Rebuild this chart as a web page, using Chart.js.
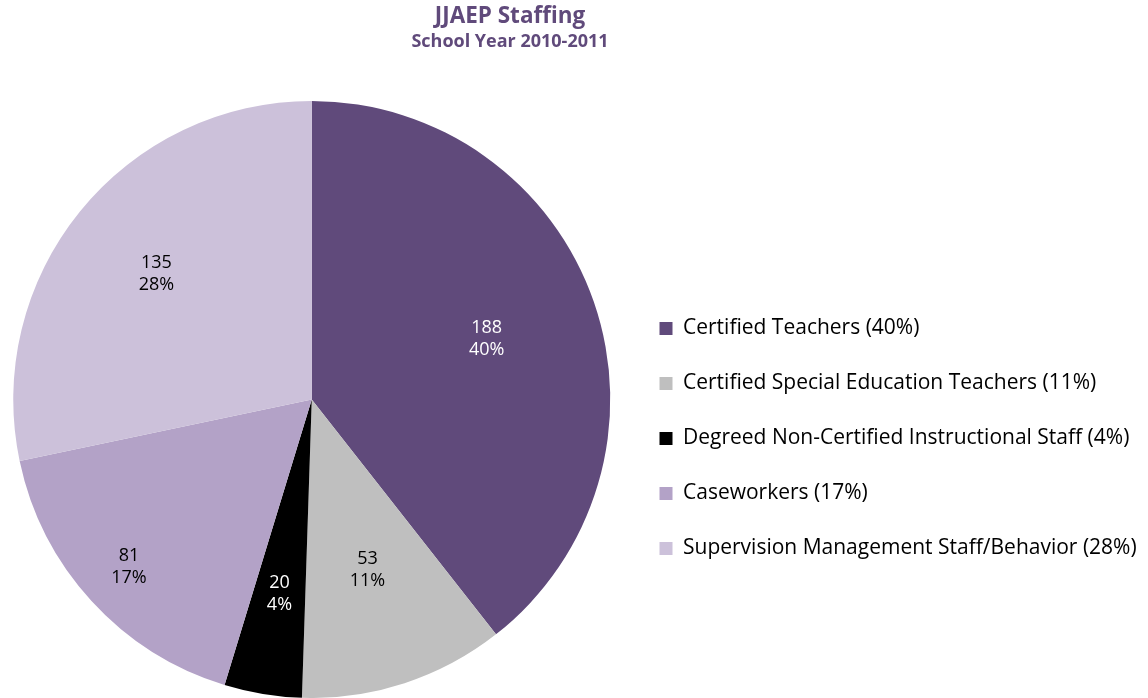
<!DOCTYPE html>
<html>
<head>
<meta charset="utf-8">
<script src="https://cdn.jsdelivr.net/npm/chart.js@4.4.1/dist/chart.umd.min.js"></script>
<style>
  html, body { margin: 0; padding: 0; background: #fff; overflow: hidden; }
  #wrap { position: relative; width: 1148px; height: 698px; overflow: hidden; }
  #staffChart { position: absolute; left: -2px; top: 0; }
  #title { position: absolute; left: 310px; width: 400px; top: 1px; text-align: center;
           font-family: "Open Sans", "Noto Sans", sans-serif; font-weight: bold; color: #604A7B; }
  #title .main { font-size: 22.5px; line-height: 28px; }
  #title .sub { font-size: 18px; line-height: 22px; }
</style>
</head>
<body>
<div id="wrap">
  <canvas id="staffChart" width="1150" height="698"></canvas>
  <div id="title"><div class="main">JJAEP Staffing</div><div class="sub">School Year 2010-2011</div></div>
</div>
<script>
const categories = [
  'Certified Teachers',
  'Certified Special Education Teachers',
  'Degreed Non-Certified Instructional Staff',
  'Caseworkers',
  'Supervision Management Staff/Behavior'
];
const staffCounts = [188, 53, 20, 81, 135];
const percentLabels = ['40%', '11%', '4%', '17%', '28%'];

const sliceColors = ['#604A7B', '#BFBFBF', '#000000', '#B3A2C7', '#CCC1DA'];
const labelColors = ['#FFFFFF', '#000000', '#FFFFFF', '#000000', '#000000'];
// how far out along the radius each value label sits
const labelRadius = [0.62, 0.6, 0.66, 0.83, 0.67];

const FONT = '"Open Sans", "Noto Sans", sans-serif';
const legendFontSize = 21;

// measure the longest legend entry so the legend boxes start at x = 659 on the page
// (the canvas sits 2px to the left, so 661 in canvas pixels)
const mctx = document.createElement('canvas').getContext('2d');
mctx.font = legendFontSize + 'px ' + FONT;
const legendTexts = categories.map((c, i) => `${c} (${percentLabels[i]})`);
const longest = Math.max(...legendTexts.map(t => mctx.measureText(t).width));
const padRight = Math.max(0, 1150 - 661 - 13 - legendFontSize - longest);

const sliceLabels = {
  id: 'sliceLabels',
  afterDatasetsDraw(chart) {
    const { ctx } = chart;
    const meta = chart.getDatasetMeta(0);
    ctx.save();
    ctx.font = '18px ' + FONT;
    ctx.textAlign = 'center';
    ctx.textBaseline = 'middle';
    meta.data.forEach((arc, i) => {
      const p = arc.getProps(['x', 'y', 'startAngle', 'endAngle', 'outerRadius'], true);
      const mid = (p.startAngle + p.endAngle) / 2;
      const r = p.outerRadius * labelRadius[i];
      const x = p.x + Math.cos(mid) * r;
      const y = p.y + Math.sin(mid) * r;
      ctx.fillStyle = labelColors[i];
      ctx.fillText(String(staffCounts[i]), x, y - 11);
      ctx.fillText(percentLabels[i], x, y + 11);
    });
    ctx.restore();
  }
};

new Chart(document.getElementById('staffChart'), {
  type: 'pie',
  data: {
    labels: legendTexts,
    datasets: [{
      data: staffCounts,
      backgroundColor: sliceColors,
      borderWidth: 0,
    }],
  },
  options: {
    responsive: false,
    animation: false,
    layout: { padding: { top: 101, left: 0, right: padRight, bottom: 0 } },
    plugins: {
      tooltip: { enabled: false },
      legend: {
        position: 'right',
        title: { display: true, text: ' ', font: { size: 10, lineHeight: 1 }, padding: { top: 34, bottom: 34 } },
        labels: {
          boxWidth: 13,
          boxHeight: 13,
          padding: 34,
          color: '#000000',
          font: { family: FONT, size: legendFontSize, lineHeight: 0.9 },
        },
      },
    },
  },
  plugins: [sliceLabels],
});
</script>
</body>
</html>
